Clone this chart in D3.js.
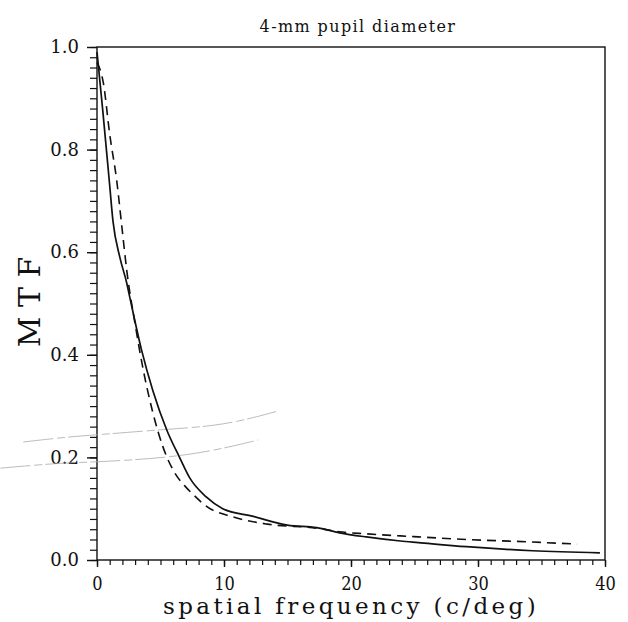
<!DOCTYPE html>
<html>
<head>
<meta charset="utf-8">
<script src="https://cdn.jsdelivr.net/npm/d3@7"></script>
<style>
  body { margin: 0; background: #fff; }
  svg { display: block; }
</style>
</head>
<body>
<div id="chart"></div>
<script>
// Solid curve (frequency c/deg, MTF)
const solidFreq = [0, 0.44, 1.0, 1.26, 1.8, 2.34, 2.6, 3.5, 4.4, 5.5, 6.5, 7.3, 8.6, 9.9, 12.3, 15.0, 17.3, 19.1, 21.2, 23.9, 25.3, 29.1, 34.3, 39.6];
const solidMTF  = [0.99, 0.88, 0.73, 0.66, 0.59, 0.54, 0.51, 0.41, 0.33, 0.253, 0.20, 0.16, 0.123, 0.100, 0.085, 0.068, 0.063, 0.053, 0.045, 0.037, 0.034, 0.026, 0.018, 0.014];

// Dashed curve
const dashFreq = [0, 0.5, 1.0, 1.55, 2.0, 2.34, 3.0, 3.6, 4.4, 5.2, 6.0, 7.0, 7.6, 8.6, 10.7, 13.4, 17.3, 19.1, 21.2, 23.9, 25.3, 29.1, 34.3, 37.8];
const dashMTF  = [0.97, 0.93, 0.83, 0.74, 0.64, 0.565, 0.46, 0.376, 0.287, 0.22, 0.175, 0.142, 0.127, 0.105, 0.084, 0.070, 0.062, 0.055, 0.051, 0.047, 0.045, 0.040, 0.035, 0.031];

// faint scan strokes crossing the plot
const faintUpperFreq = [-5.8, -2.3, 0, 5.5, 10.0, 14.2];
const faintUpperMTF  = [0.230, 0.240, 0.244, 0.255, 0.262, 0.290];
const faintLowerFreq = [-7.6, -3.1, 0, 5.5, 9.4, 12.7];
const faintLowerMTF  = [0.179, 0.189, 0.191, 0.199, 0.214, 0.234];

const xMajor = [0, 10, 20, 30, 40];
const yMajor = [0.0, 0.2, 0.4, 0.6, 0.8, 1.0];

const width = 628, height = 622;
const margin = { top: 47, right: 23, bottom: 62, left: 97 };
const serif = '"DejaVu Serif", "Liberation Serif", serif';

const svg = d3.select("#chart").append("svg")
  .attr("width", width)
  .attr("height", height)
  .style("font-family", serif);

const x = d3.scaleLinear().domain([0, 40]).range([margin.left, width - margin.right]);
const y = d3.scaleLinear().domain([0, 1]).range([height - margin.bottom, margin.top]);

// frame
svg.append("rect")
  .attr("x", x(0)).attr("y", y(1))
  .attr("width", x(40) - x(0)).attr("height", y(0) - y(1))
  .attr("fill", "none").attr("stroke", "#111").attr("stroke-width", 1.4);

// x axis: minor every 1, major every 10
svg.append("g").attr("transform", `translate(0,${y(0)})`)
  .call(d3.axisBottom(x).tickValues(d3.range(0, 41, 1)).tickSize(5).tickFormat(""))
  .call(g => g.select(".domain").remove())
  .call(g => g.selectAll("line").attr("stroke", "#111").attr("stroke-width", 1.2));
svg.append("g").attr("transform", `translate(0,${y(0)})`)
  .call(d3.axisBottom(x).tickValues(xMajor).tickSize(7).tickPadding(10).tickFormat(d3.format("d")))
  .call(g => g.select(".domain").remove())
  .call(g => g.selectAll("line").attr("stroke", "#111").attr("stroke-width", 1.4))
  .call(g => g.selectAll("text")
    .style("font-family", serif)
    .style("font-size", "18px")
    .attr("fill", "#111")
    .attr("transform", "scale(0.9,1)"));

// y axis: minor every 0.02, major every 0.2
svg.append("g").attr("transform", `translate(${x(0)},0)`)
  .call(d3.axisLeft(y).tickValues(d3.range(0, 51).map(i => i * 0.02)).tickSize(7).tickFormat(""))
  .call(g => g.select(".domain").remove())
  .call(g => g.selectAll("line").attr("stroke", "#111").attr("stroke-width", 1.2));
svg.append("g").attr("transform", `translate(${x(0)},0)`)
  .call(d3.axisLeft(y).tickValues(yMajor).tickSize(10).tickPadding(8).tickFormat(d3.format(".1f")))
  .call(g => g.select(".domain").remove())
  .call(g => g.selectAll("line").attr("stroke", "#111").attr("stroke-width", 1.4))
  .call(g => g.selectAll("text")
    .style("font-family", serif)
    .style("font-size", "18px")
    .attr("fill", "#111"));

const line = d3.line().x(d => x(d[0])).y(d => y(d[1])).curve(d3.curveMonotoneX);
const zip = (a, b) => a.map((v, i) => [v, b[i]]);

// faint strokes
[[faintUpperFreq, faintUpperMTF], [faintLowerFreq, faintLowerMTF]].forEach(([f, m]) => {
  svg.append("path")
    .datum(zip(f, m))
    .attr("d", d3.line().x(d => x(d[0])).y(d => y(d[1])).curve(d3.curveBasis))
    .attr("fill", "none")
    .attr("stroke", "#aaa")
    .attr("stroke-width", 0.8)
    .attr("stroke-dasharray", "30,4,8,3");
});

svg.append("path")
  .datum(zip(solidFreq, solidMTF))
  .attr("d", line)
  .attr("fill", "none")
  .attr("stroke", "#111")
  .attr("stroke-width", 1.7);

svg.append("path")
  .datum(zip(dashFreq, dashMTF))
  .attr("d", line)
  .attr("fill", "none")
  .attr("stroke", "#111")
  .attr("stroke-width", 1.6)
  .attr("stroke-dasharray", "9,6");

// labels
svg.append("text")
  .attr("x", 358).attr("y", 32)
  .attr("text-anchor", "middle")
  .attr("fill", "#111")
  .style("font-family", serif)
  .style("font-size", "16px")
  .style("letter-spacing", "1.4px")
  .text("4-mm pupil diameter");

svg.append("text")
  .attr("transform", "translate(40,302) rotate(-90)")
  .attr("text-anchor", "middle")
  .attr("fill", "#111")
  .style("font-family", serif)
  .style("font-size", "30px")
  .text("M T F");

svg.append("text")
  .attr("x", 351).attr("y", 614)
  .attr("text-anchor", "middle")
  .attr("fill", "#111")
  .style("font-family", serif)
  .style("font-size", "23px")
  .style("letter-spacing", "3.4px")
  .text("spatial frequency (c/deg)");
</script>
</body>
</html>
